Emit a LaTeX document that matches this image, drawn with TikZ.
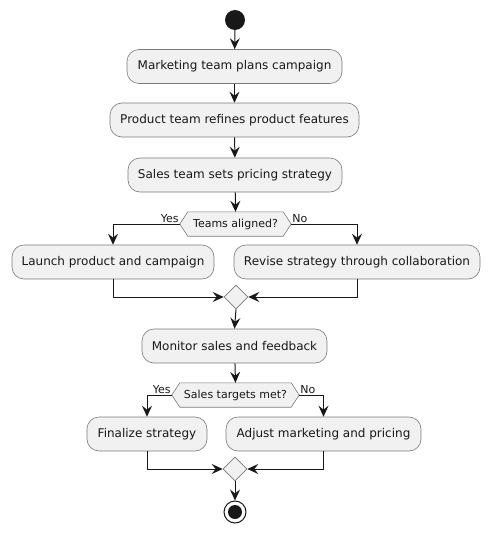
\documentclass[tikz,border=0pt]{standalone}
\usepackage{fontspec}
\setmainfont{DejaVu Sans}
\usetikzlibrary{arrows.meta,shapes.geometric}
\definecolor{boxfill}{HTML}{F1F1F1}
\definecolor{ink}{HTML}{181818}
\definecolor{edge}{HTML}{7A7A7A}
\tikzset{
  act/.style={draw=edge, line width=0.6pt, fill=boxfill, rounded corners=12pt,
    minimum height=34pt, inner sep=0pt, font=\fontsize{12}{14}\selectfont, text=ink},
  hexnode/.style={minimum height=24pt, inner sep=0pt, font=\fontsize{11}{13}\selectfont, text=ink},
  merge/.style={diamond, draw=edge, line width=0.6pt, fill=boxfill, minimum width=24pt, minimum height=24pt, inner sep=0pt},
  flow/.style={draw=ink, line width=1pt, -{Stealth[length=11pt,width=10pt,inset=4pt]}},
  lbl/.style={font=\fontsize{11}{13}\selectfont, text=ink, inner sep=1pt}
}
\newcommand{\hexpath}[1]{%
  \draw[draw=edge, line width=0.6pt, fill=boxfill] (#1.west) -- ([xshift=8pt]#1.north west) -- ([xshift=-8pt]#1.north east) -- (#1.east) -- ([xshift=-8pt]#1.south east) -- ([xshift=8pt]#1.south west) -- cycle;}
\begin{document}
\begin{tikzpicture}[x=1pt,y=-1pt]
\useasboundingbox (0,0) rectangle (490,533);
\node[circle, fill=ink, minimum size=20pt, inner sep=0pt] (start) at (235,20) {};
\node[act, minimum width=215pt] (b1) at (234.5,66.5) {Marketing team plans campaign};
\node[act, minimum width=249pt] (b2) at (234.5,120) {Product team refines product features};
\node[act, minimum width=214pt] (b3) at (235,175) {Sales team sets pricing strategy};
\node[hexnode, minimum width=111pt] (d1) at (235.5,224) {};
\hexpath{d1}
\node[hexnode] at (d1) {Teams aligned?};
\node[act, minimum width=202pt] (b4) at (113,262) {Launch product and campaign};
\node[act, minimum width=246pt] (b5) at (357,262) {Revise strategy through collaboration};
\node[merge] (m1) at (236,297) {};
\node[act, minimum width=185pt] (b6) at (234.5,346) {Monitor sales and feedback};
\node[hexnode, minimum width=127pt] (d2) at (235.5,395) {};
\hexpath{d2}
\node[hexnode] at (d2) {Sales targets met?};
\node[act, minimum width=120pt] (b7) at (147,434) {Finalize strategy};
\node[act, minimum width=195pt] (b8) at (323.5,434) {Adjust marketing and pricing};
\node[merge] (m2) at (235,469) {};
\node[circle, draw=ink, line width=1pt, fill=white, minimum size=22pt, inner sep=0pt] (end) at (235,512) {};
\node[circle, fill=ink, minimum size=14pt, inner sep=0pt] at (end) {};

\draw[flow] (start) -- (b1);
\draw[flow] (b1) -- (b2);
\draw[flow] (b2) -- (b3);
\draw[flow] (b3) -- (d1.north);
\draw[flow] (d1.west) -| (b4.north);
\draw[flow] (d1.east) -| (b5.north);
\node[lbl, anchor=south east] at (d1.west) {Yes};
\node[lbl, anchor=south west] at (d1.east) {No};
\draw[flow] (b4.south) |- (m1.west);
\draw[flow] (b5.south) |- (m1.east);
\draw[flow] (m1.south) -- (b6.north);
\draw[flow] (b6) -- (d2.north);
\draw[flow] (d2.west) -| (b7.north);
\draw[flow] (d2.east) -| (b8.north);
\node[lbl, anchor=south east] at (d2.west) {Yes};
\node[lbl, anchor=south west] at (d2.east) {No};
\draw[flow] (b7.south) |- (m2.west);
\draw[flow] (b8.south) |- (m2.east);
\draw[flow] (m2.south) -- (end.north);
\end{tikzpicture}
\end{document}
